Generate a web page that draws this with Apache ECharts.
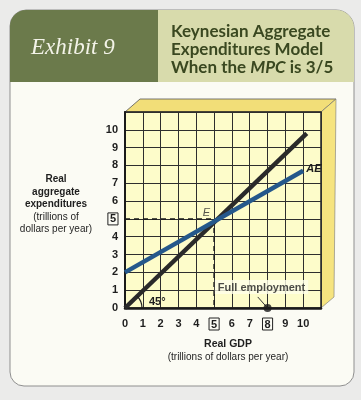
<!DOCTYPE html>
<html><head><meta charset="utf-8">
<script src="https://cdn.jsdelivr.net/npm/echarts@6/dist/echarts.min.js"></script>
<style>html,body{margin:0;padding:0;background:#ebebea;}#c{width:361px;height:400px;}</style>
</head><body><div id="c"></div>
<script>
// ---- data ----
const tickValues = [0,1,2,3,4,5,6,7,8,9,10];
const boxedX = [5, 8];
const boxedY = [5];
const line45X = [0, 10.2];
const line45Y = [0, 9.8];
const aeX = [0, 10];
const aeY = [2, 7.7];
const equilibrium = [5, 5];
const fullEmploymentGDP = 8;

const chart = echarts.init(document.getElementById('c'), null, {renderer:'canvas'});
const AX_MAX = 11;
const labelFont = 'Liberation Sans, Arial, sans-serif';

function tickFmt(boxed){
  return function(v){
    if (v > 10) return '';
    if (boxed.indexOf(v) >= 0) return '{box|' + v + '}';
    return String(v);
  };
}
const boxRich = {box:{borderColor:'#222',borderWidth:1,padding:[1,2,0,2],fontWeight:'bold',fontSize:11,color:'#1e1e1e',fontFamily:labelFont}};

const option = {
  backgroundColor:'#ebebea',
  animation:false,
  grid:{left:125, top:112, width:196, height:196, show:true, backgroundColor:'#fdfcca', borderColor:'#222', borderWidth:1.5, z:0},
  xAxis:{type:'value', min:0, max:AX_MAX, interval:1,
    axisLine:{show:true, onZero:false, lineStyle:{color:'#1a1a1a', width:2.5}},
    axisTick:{show:false},
    splitLine:{show:true, lineStyle:{color:'#2e2e2e', width:1}},
    axisLabel:{formatter:tickFmt(boxedX), margin:10, fontSize:11, fontWeight:'bold', color:'#1e1e1e', fontFamily:labelFont, showMaxLabel:false, rich:boxRich}
  },
  yAxis:{type:'value', min:0, max:AX_MAX, interval:1,
    axisLine:{show:true, onZero:false, lineStyle:{color:'#1a1a1a', width:2}},
    axisTick:{show:false},
    splitLine:{show:true, lineStyle:{color:'#2e2e2e', width:1}},
    axisLabel:{formatter:tickFmt(boxedY), margin:7, fontSize:11, fontWeight:'bold', color:'#1e1e1e', fontFamily:labelFont, showMaxLabel:false, rich:boxRich}
  },
  series:[
    {type:'line', name:'dashed-h', data:[[0, equilibrium[1]],[equilibrium[0], equilibrium[1]]], symbol:'none',
      lineStyle:{color:'#1a1a1a', width:1.5, type:[5,4]}, z:3},
    {type:'line', name:'dashed-v', data:[[equilibrium[0], equilibrium[1]],[equilibrium[0], 0]], symbol:'none',
      lineStyle:{color:'#1a1a1a', width:1.5, type:[5,4]}, z:3},
    {type:'line', name:'45', data:line45X.map((x,i)=>[x,line45Y[i]]), symbol:'none',
      lineStyle:{color:'#2a2a2a', width:4.5, cap:'butt'}, z:4},
    {type:'line', name:'AE', data:aeX.map((x,i)=>[x,aeY[i]]), symbol:'none',
      lineStyle:{color:'#25588b', width:4.5, cap:'butt'}, z:5,
      endLabel:{show:true, formatter:'AE', fontStyle:'italic', fontWeight:'bold', fontSize:11, color:'#1e1e1e', fontFamily:labelFont, distance:3, offset:[0,-2]}},
    {type:'custom', name:'angle', renderItem:function(params, api){
        const o = api.coord([0,0]);
        return {type:'group', children:[
          {type:'arc', shape:{cx:o[0], cy:o[1], r:17, startAngle:-Math.PI/4, endAngle:0}, style:{stroke:'#1e1e1e', lineWidth:1.2, fill:null}},
          {type:'text', style:{text:'45°', x:o[0]+24, y:o[1]-6, fill:'#1e1e1e', font:'bold 11px ' + labelFont, textAlign:'left', textVerticalAlign:'middle'}}
        ]};
      }, data:[[0,0]], z:6},
    {type:'scatter', name:'E', data:[equilibrium], symbolSize:0,
      label:{show:true, formatter:'E', position:'left', offset:[1,-6], fontStyle:'italic', fontSize:11, color:'#2a2a2a', fontFamily:labelFont}, z:6},
    {type:'line', name:'leader', data:[[7.45,0.62],[fullEmploymentGDP,0]], symbol:'none', lineStyle:{color:'#333', width:1}, z:6},
    {type:'scatter', name:'full', data:[[fullEmploymentGDP,0]], symbolSize:8, itemStyle:{color:'#1a1a1a'}, z:7,
      label:{show:true, formatter:'Full employment', position:'top', offset:[-6,-5], fontWeight:'bold', fontSize:11, color:'#1e1e1e', fontFamily:labelFont,
        backgroundColor:'#fefee8', padding:[2,3,1,3]}}
  ]
};
chart.setOption(option);

const p0 = chart.convertToPixel({gridIndex:0}, [0,0]);
const p1 = chart.convertToPixel({gridIndex:0}, [AX_MAX,AX_MAX]);
const dx = 15, dy = -13;
chart.setOption({graphic:[
  {type:'rect', z:-20, shape:{x:10,y:10,width:344,height:376,r:[16,18,14,14]}, style:{fill:'#fbfbf4', stroke:'#8f8f8f', lineWidth:1}},
  {type:'rect', z:-19, shape:{x:10,y:10,width:148,height:72,r:[16,0,0,0]}, style:{fill:'#6b7a4b'}},
  {type:'rect', z:-19, shape:{x:158,y:10,width:196,height:72,r:[0,18,0,0]}, style:{fill:'#d8dbac'}},
  {type:'text', z:-18, style:{text:'Exhibit 9', x:31, y:48, font:'italic 23px "Liberation Serif", serif', fill:'#f3f3e8', textVerticalAlign:'middle'}},
  {type:'text', z:-18, style:{x:171, y:23, fill:'#3a4820', font:'bold 17px Lato, sans-serif', lineHeight:18,
     rich:{n:{font:'bold 17px Lato, sans-serif', fill:'#3a4820', lineHeight:18}, i:{font:'italic bold 17px Lato, sans-serif', fill:'#3a4820', lineHeight:18}},
     text:'{n|Keynesian Aggregate}\n{n|Expenditures Model}\n{n|When the }{i|MPC}{n| is 3/5}'}},
  {type:'polygon', z:-10, shape:{points:[[p0[0],p1[1]],[p0[0]+dx,p1[1]+dy],[p1[0]+dx,p1[1]+dy],[p1[0],p1[1]]]}, style:{fill:'#f2de78', stroke:'#555', lineWidth:0.8}},
  {type:'polygon', z:-10, shape:{points:[[p1[0],p1[1]],[p1[0]+dx,p1[1]+dy],[p1[0]+dx-2,p0[1]+dy+2],[p1[0],p0[1]]]}, style:{fill:'#f6e47f', stroke:'#777', lineWidth:0.6}},
  {type:'text', z:-5, style:{x:56, y:173, textAlign:'center', fill:'#1e1e1e', font:'bold 10px ' + labelFont,
     rich:{b:{font:'bold 10px ' + labelFont, fill:'#1e1e1e', lineHeight:12.5, align:'center'}, r:{font:'10px ' + labelFont, fill:'#1e1e1e', lineHeight:12.5, align:'center'}},
     text:'{b|Real}\n{b|aggregate}\n{b|expenditures}\n{r|(trillions of}\n{r|dollars per year)}'}},
  {type:'text', z:-5, style:{x:228, y:337, textAlign:'center', fill:'#1e1e1e',
     rich:{b:{font:'bold 10.5px ' + labelFont, fill:'#1e1e1e', lineHeight:14, align:'center'}, r:{font:'10px ' + labelFont, fill:'#1e1e1e', lineHeight:13, align:'center'}},
     text:'{b|Real GDP}\n{r|(trillions of dollars per year)}'}}
]});
</script></body></html>
